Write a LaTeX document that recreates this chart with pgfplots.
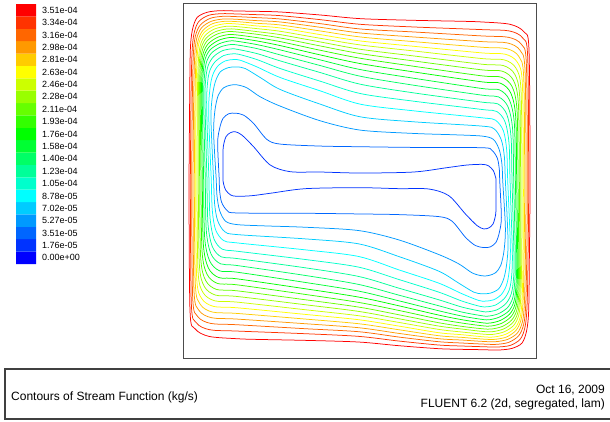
\documentclass[border=0pt]{standalone}
\usepackage{fontspec}
\setmainfont{Liberation Sans}
\usepackage{pgfplots}
\pgfplotsset{compat=1.18}
\definecolor{c0}{RGB}{0,0,255}
\definecolor{c1}{RGB}{0,51,255}
\definecolor{c2}{RGB}{0,102,255}
\definecolor{c3}{RGB}{0,153,255}
\definecolor{c4}{RGB}{0,204,255}
\definecolor{c5}{RGB}{0,255,255}
\definecolor{c6}{RGB}{0,255,204}
\definecolor{c7}{RGB}{0,255,153}
\definecolor{c8}{RGB}{0,255,102}
\definecolor{c9}{RGB}{0,255,51}
\definecolor{c10}{RGB}{0,255,0}
\definecolor{c11}{RGB}{51,255,0}
\definecolor{c12}{RGB}{102,255,0}
\definecolor{c13}{RGB}{153,255,0}
\definecolor{c14}{RGB}{204,255,0}
\definecolor{c15}{RGB}{255,255,0}
\definecolor{c16}{RGB}{255,204,0}
\definecolor{c17}{RGB}{255,153,0}
\definecolor{c18}{RGB}{255,102,0}
\definecolor{c19}{RGB}{255,51,0}
\definecolor{c20}{RGB}{255,0,0}
\begin{document}
\begin{tikzpicture}
\useasboundingbox (0,0) rectangle (610pt,-421pt);
% ---------------- colour bar ----------------
\begin{axis}[at={(16pt,-264pt)}, anchor=south west, scale only axis,
  width=20pt, height=260pt, xmin=0, xmax=1, ymin=0, ymax=21,
  axis line style={draw=none}, xtick=\empty,
  ytick={0.5,1.5,2.5,3.5,4.5,5.5,6.5,7.5,8.5,9.5,10.5,11.5,12.5,13.5,14.5,15.5,16.5,17.5,18.5,19.5,20.5},
  yticklabels={0.00e+00,1.76e-05,3.51e-05,5.27e-05,7.02e-05,8.78e-05,1.05e-04,1.23e-04,1.40e-04,1.58e-04,1.76e-04,1.93e-04,2.11e-04,2.28e-04,2.46e-04,2.63e-04,2.81e-04,2.98e-04,3.16e-04,3.34e-04,3.51e-04},
  yticklabel pos=right, major tick length=0pt,
  yticklabel style={anchor=west, inner sep=0pt, xshift=6pt, font=\fontsize{9}{10}\selectfont}]
\addplot[fill=c0,draw=none] coordinates {(0,0)(1,0)(1,1)(0,1)(0,0)};
\addplot[fill=c1,draw=none] coordinates {(0,1)(1,1)(1,2)(0,2)(0,1)};
\addplot[fill=c2,draw=none] coordinates {(0,2)(1,2)(1,3)(0,3)(0,2)};
\addplot[fill=c3,draw=none] coordinates {(0,3)(1,3)(1,4)(0,4)(0,3)};
\addplot[fill=c4,draw=none] coordinates {(0,4)(1,4)(1,5)(0,5)(0,4)};
\addplot[fill=c5,draw=none] coordinates {(0,5)(1,5)(1,6)(0,6)(0,5)};
\addplot[fill=c6,draw=none] coordinates {(0,6)(1,6)(1,7)(0,7)(0,6)};
\addplot[fill=c7,draw=none] coordinates {(0,7)(1,7)(1,8)(0,8)(0,7)};
\addplot[fill=c8,draw=none] coordinates {(0,8)(1,8)(1,9)(0,9)(0,8)};
\addplot[fill=c9,draw=none] coordinates {(0,9)(1,9)(1,10)(0,10)(0,9)};
\addplot[fill=c10,draw=none] coordinates {(0,10)(1,10)(1,11)(0,11)(0,10)};
\addplot[fill=c11,draw=none] coordinates {(0,11)(1,11)(1,12)(0,12)(0,11)};
\addplot[fill=c12,draw=none] coordinates {(0,12)(1,12)(1,13)(0,13)(0,12)};
\addplot[fill=c13,draw=none] coordinates {(0,13)(1,13)(1,14)(0,14)(0,13)};
\addplot[fill=c14,draw=none] coordinates {(0,14)(1,14)(1,15)(0,15)(0,14)};
\addplot[fill=c15,draw=none] coordinates {(0,15)(1,15)(1,16)(0,16)(0,15)};
\addplot[fill=c16,draw=none] coordinates {(0,16)(1,16)(1,17)(0,17)(0,16)};
\addplot[fill=c17,draw=none] coordinates {(0,17)(1,17)(1,18)(0,18)(0,17)};
\addplot[fill=c18,draw=none] coordinates {(0,18)(1,18)(1,19)(0,19)(0,18)};
\addplot[fill=c19,draw=none] coordinates {(0,19)(1,19)(1,20)(0,20)(0,19)};
\addplot[fill=c20,draw=none] coordinates {(0,20)(1,20)(1,21)(0,21)(0,20)};
\end{axis}
% ---------------- contour plot ----------------
\begin{axis}[at={(183pt,-358pt)}, anchor=south west, scale only axis,
  width=353pt, height=355pt, xmin=-530, xmax=530, ymin=-534, ymax=533,
  xtick=\empty, ytick=\empty,
  axis line style={line width=0.9pt, draw=black!70},
  every axis plot/.append style={line width=0.75pt, smooth}]
\addplot[c20] coordinates {(-512,0) (-510,241) (-508,391) (-502,451) (-488,489) (-458,505) (-418,510) (-368,509) (-308,508) (-238,506) (-118,497) (2,486) (162,481) (312,478) (368,476) (452,469) (494,446) (509,391) (512,0)
 (510,-241) (508,-391) (502,-451) (488,-489) (458,-505) (418,-510) (368,-509) (308,-508) (238,-506) (118,-497) (-2,-486) (-162,-481) (-312,-478) (-368,-476) (-452,-469) (-494,-446) (-509,-391) (-512,0)};
\addplot[c19] coordinates {(-508,0) (-506,241) (-503,381) (-497,441) (-483,477) (-453,496) (-413,501) (-368,500) (-308,498) (-238,495) (-118,483) (2,469) (162,461) (368,453) (450,449) (490,428) (505,371) (508,0)
 (506,-241) (503,-381) (497,-441) (483,-477) (453,-496) (413,-501) (368,-500) (308,-498) (238,-495) (118,-483) (-2,-469) (-162,-461) (-368,-453) (-450,-449) (-490,-428) (-505,-371) (-508,0)};
\addplot[c18] coordinates {(-504,0) (-502,241) (-499,376) (-493,433) (-478,467) (-448,487) (-410,493) (-368,492) (-308,489) (-238,485) (-118,471) (2,455) (162,446) (368,434) (447,430) (486,409) (501,351) (504,0)
 (502,-241) (499,-376) (493,-433) (478,-467) (448,-487) (410,-493) (368,-492) (308,-489) (238,-485) (118,-471) (-2,-455) (-162,-446) (-368,-434) (-447,-430) (-486,-409) (-501,-351) (-504,0)};
\addplot[c17] coordinates {(-500,0) (-498,241) (-495,371) (-489,426) (-474,459) (-445,478) (-408,485) (-368,484) (-308,480) (-238,476) (-118,460) (2,443) (162,431) (368,417) (444,413) (482,391) (497,331) (500,0)
 (498,-241) (495,-371) (489,-426) (474,-459) (445,-478) (408,-485) (368,-484) (308,-480) (238,-476) (118,-460) (-2,-443) (-162,-431) (-368,-417) (-444,-413) (-482,-391) (-497,-331) (-500,0)};
\addplot[c16] coordinates {(-496,0) (-494,241) (-491,366) (-485,419) (-470,451) (-441,471) (-405,478) (-368,477) (-308,472) (-238,467) (-118,449) (2,431) (162,417) (368,400) (441,396) (478,373) (493,311) (496,0)
 (494,-241) (491,-366) (485,-419) (470,-451) (441,-471) (405,-478) (368,-477) (308,-472) (238,-467) (118,-449) (-2,-431) (-162,-417) (-368,-400) (-441,-396) (-478,-373) (-493,-311) (-496,0)};
\addplot[c15] coordinates {(-492,0) (-491,241) (-488,361) (-482,413) (-467,444) (-438,463) (-402,471) (-368,470) (-308,464) (-238,458) (-118,438) (2,419) (162,403) (368,383) (438,379) (474,355) (489,291) (492,0)
 (491,-241) (488,-361) (482,-413) (467,-444) (438,-463) (402,-471) (368,-470) (308,-464) (238,-458) (118,-438) (-2,-419) (-162,-403) (-368,-383) (-438,-379) (-474,-355) (-489,-291) (-492,0)};
\addplot[c14] coordinates {(-488,0) (-487,241) (-484,356) (-478,406) (-463,436) (-435,455) (-400,463) (-368,462) (-308,456) (-238,448) (-118,427) (2,407) (162,389) (368,366) (435,362) (470,337) (485,271) (488,0)
 (487,-241) (484,-356) (478,-406) (463,-436) (435,-455) (400,-463) (368,-462) (308,-456) (238,-448) (118,-427) (-2,-407) (-162,-389) (-368,-366) (-435,-362) (-470,-337) (-485,-271) (-488,0)};
\addplot[c13] coordinates {(-484,0) (-484,241) (-481,351) (-475,399) (-460,428) (-432,447) (-398,455) (-368,454) (-308,447) (-238,438) (-118,416) (2,394) (162,374) (368,349) (432,345) (466,319) (481,251) (484,0)
 (484,-241) (481,-351) (475,-399) (460,-428) (432,-447) (398,-455) (368,-454) (308,-447) (238,-438) (118,-416) (-2,-394) (-162,-374) (-368,-349) (-432,-345) (-466,-319) (-481,-251) (-484,0)};
\addplot[c12] coordinates {(-480,0) (-481,241) (-478,345) (-472,391) (-457,420) (-429,439) (-396,447) (-368,446) (-308,439) (-238,428) (-118,404) (2,381) (162,359) (368,332) (429,328) (462,301) (477,231) (480,0)
 (481,-241) (478,-345) (472,-391) (457,-420) (429,-439) (396,-447) (368,-446) (308,-439) (238,-428) (118,-404) (-2,-381) (-162,-359) (-368,-332) (-429,-328) (-462,-301) (-477,-231) (-480,0)};
\addplot[c11] coordinates {(-476,0) (-478,241) (-475,339) (-469,383) (-454,411) (-426,430) (-394,438) (-368,437) (-308,429) (-238,417) (-118,391) (2,367) (162,343) (368,314) (426,310) (458,282) (473,211) (476,0)
 (478,-241) (475,-339) (469,-383) (454,-411) (426,-430) (394,-438) (368,-437) (308,-429) (238,-417) (118,-391) (-2,-367) (-162,-343) (-368,-314) (-426,-310) (-458,-282) (-473,-211) (-476,0)};
\addplot[c10] coordinates {(-472,0) (-475,241) (-472,333) (-466,375) (-451,402) (-423,421) (-392,429) (-368,428) (-308,419) (-238,405) (-118,377) (2,351) (162,326) (368,296) (423,292) (454,263) (469,191) (472,0)
 (475,-241) (472,-333) (466,-375) (451,-402) (423,-421) (392,-429) (368,-428) (308,-419) (238,-405) (118,-377) (-2,-351) (-162,-326) (-368,-296) (-423,-292) (-454,-263) (-469,-191) (-472,0)};
\addplot[c9] coordinates {(-468,0) (-472,241) (-469,326) (-463,366) (-448,393) (-420,411) (-390,419) (-368,418) (-308,408) (-238,392) (-118,362) (2,333) (162,307) (368,276) (420,272) (450,242) (465,171) (468,0)
 (472,-241) (469,-326) (463,-366) (448,-393) (420,-411) (390,-419) (368,-418) (308,-408) (238,-392) (118,-362) (-2,-333) (-162,-307) (-368,-276) (-420,-272) (-450,-242) (-465,-171) (-468,0)};
\addplot[c8] coordinates {(-463,0) (-468,241) (-465,319) (-459,357) (-444,383) (-417,401) (-388,408) (-368,407) (-308,396) (-238,377) (-118,345) (2,313) (162,286) (368,256) (417,251) (446,221) (460,151) (463,0)
 (468,-241) (465,-319) (459,-357) (444,-383) (417,-401) (388,-408) (368,-407) (308,-396) (238,-377) (118,-345) (-2,-313) (-162,-286) (-368,-256) (-417,-251) (-446,-221) (-460,-151) (-463,0)};
\addplot[c7] coordinates {(-458,0) (-464,241) (-461,311) (-454,346) (-439,371) (-413,389) (-386,395) (-368,394) (-308,381) (-238,359) (-118,324) (2,289) (162,263) (368,235) (415,230) (442,199) (455,131) (458,0)
 (464,-241) (461,-311) (454,-346) (439,-371) (413,-389) (386,-395) (368,-394) (308,-381) (238,-359) (118,-324) (-2,-289) (-162,-263) (-368,-235) (-415,-230) (-442,-199) (-455,-131) (-458,0)};
\addplot[c6] coordinates {(-452,0) (-459,221) (-456,296) (-449,331) (-434,356) (-408,375) (-383,380) (-363,379) (-308,363) (-238,336) (-118,298) (2,261) (162,238) (368,213) (412,207) (437,176) (449,111) (452,0)
 (459,-221) (456,-296) (449,-331) (434,-356) (408,-375) (383,-380) (363,-379) (308,-363) (238,-336) (118,-298) (-2,-261) (-162,-238) (-368,-213) (-412,-207) (-437,-176) (-449,-111) (-452,0)};
\addplot[c5] coordinates {(-445,0) (-453,201) (-449,276) (-441,316) (-426,343) (-403,359) (-378,363) (-358,361) (-308,341) (-238,309) (-118,269) (2,229) (162,209) (368,188) (408,181) (432,149) (442,91) (445,0)
 (453,-201) (449,-276) (441,-316) (426,-343) (403,-359) (378,-363) (358,-361) (308,-341) (238,-309) (118,-269) (-2,-229) (-162,-209) (-368,-188) (-408,-181) (-432,-149) (-442,-91) (-445,0)};
\addplot[c4] coordinates {(-438,0) (-446,181) (-442,251) (-433,296) (-418,326) (-393,339) (-368,341) (-343,336) (-298,309) (-238,273) (-118,229) (2,191) (162,176) (368,163) (405,154) (426,121) (435,71) (438,0)
 (446,-181) (442,-251) (433,-296) (418,-326) (393,-339) (368,-341) (343,-336) (298,-309) (238,-273) (118,-229) (-2,-191) (-162,-176) (-368,-163) (-405,-154) (-426,-121) (-435,-71) (-438,0)};
\addplot[c3] coordinates {(-430,0) (-438,141) (-434,211) (-424,256) (-408,278) (-388,286) (-368,287) (-338,278) (-298,251) (-238,223) (-118,179) (2,151) (162,141) (282,137) (368,133) (402,123) (420,91) (428,46) (430,0)
 (438,-141) (434,-211) (424,-256) (408,-278) (388,-286) (368,-287) (338,-278) (298,-251) (238,-223) (118,-179) (-2,-151) (-162,-141) (-282,-137) (-368,-133) (-402,-123) (-420,-91) (-428,-46) (-430,0)};
\addplot[c2] coordinates {(-421,0) (-426,111) (-420,156) (-410,186) (-393,200) (-373,202) (-348,196) (-318,171) (-278,123) (-238,109) (-118,103) (2,101) (162,99) (368,98) (397,91) (414,66) (420,31) (421,0)
 (426,-111) (420,-156) (410,-186) (393,-200) (373,-202) (348,-196) (318,-171) (278,-123) (238,-109) (118,-103) (-2,-101) (-162,-99) (-368,-98) (-397,-91) (-414,-66) (-420,-31) (-421,0)};
\addplot[c1] coordinates {(-410,0) (-410,61) (-409,101) (-401,131) (-388,143) (-373,146) (-353,136) (-318,101) (-268,46) (-208,26) (-118,25) (2,22) (162,25) (262,38) (322,46) (368,48) (387,44) (402,29) (408,11) (410,0)
 (410,-61) (409,-101) (401,-131) (388,-143) (373,-146) (353,-136) (318,-101) (268,-46) (208,-26) (118,-25) (-2,-22) (-162,-25) (-262,-38) (-322,-46) (-368,-48) (-387,-44) (-402,-29) (-408,-11) (-410,0)};
\end{axis}
% ---------------- footer ----------------
\begin{axis}[at={(5pt,-419pt)}, anchor=south west, scale only axis,
  width=607pt, height=50pt, xmin=5, xmax=612, ymin=-419, ymax=-369,
  xtick=\empty, ytick=\empty,
  axis line style={line width=1.1pt, draw=black!75}]
\node[anchor=west, inner sep=0pt, font=\fontsize{12}{14}\selectfont] at (axis cs:11,-397) {Contours of Stream Function (kg/s)};
\node[anchor=east, inner sep=0pt, font=\fontsize{12}{14}\selectfont] at (axis cs:605,-390) {Oct 16, 2009};
\node[anchor=east, inner sep=0pt, font=\fontsize{12}{14}\selectfont] at (axis cs:605,-404) {FLUENT 6.2 (2d, segregated, lam)};
\end{axis}
\end{tikzpicture}
\end{document}
